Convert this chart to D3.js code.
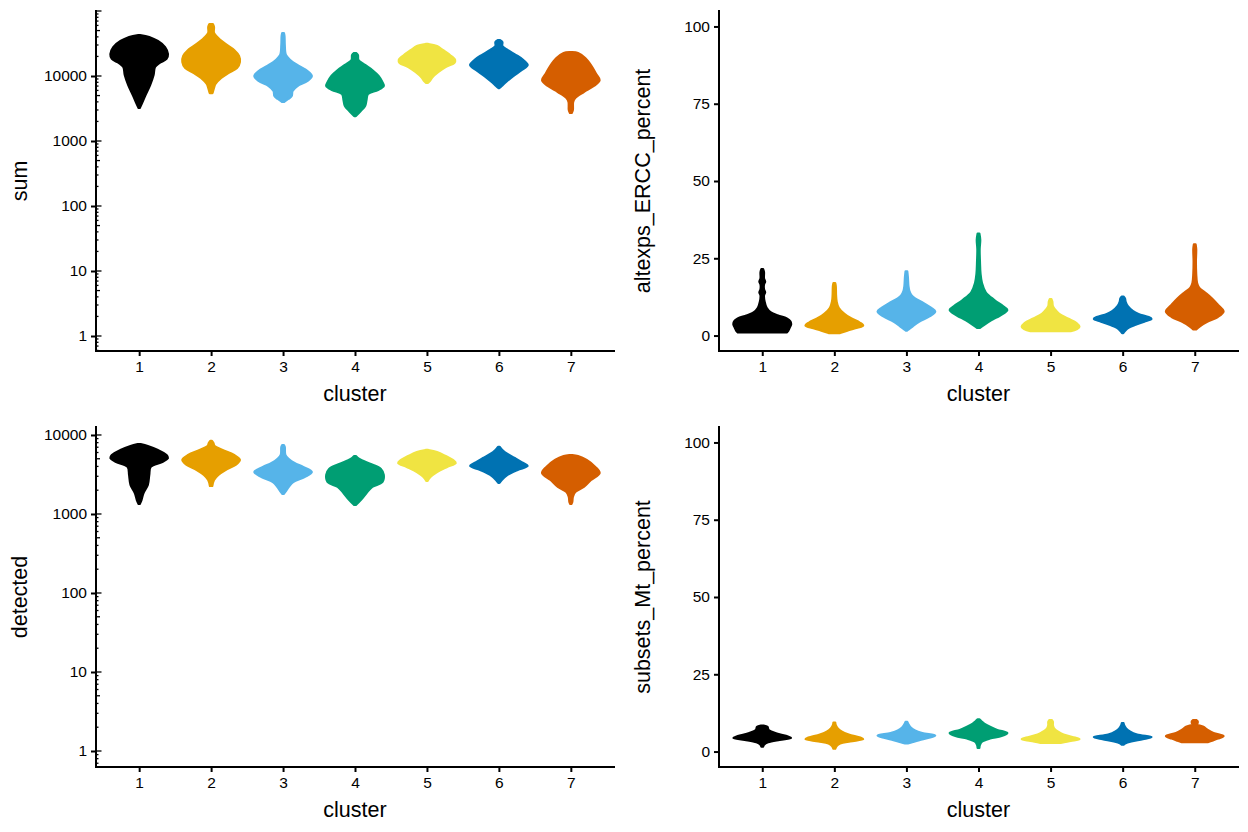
<!DOCTYPE html>
<html><head><meta charset="utf-8">
<script src="https://cdn.jsdelivr.net/npm/d3@7"></script>
<style>
body{margin:0;background:#fff}
svg{display:block}
text{font-family:"Liberation Sans",Arial,Helvetica,sans-serif;fill:#000}
</style>
</head><body>
<svg id="chart" width="1248" height="832"></svg>
<script>
// ---------------- data ----------------
const clusters = ["1","2","3","4","5","6","7"];
const clusterColors = ["#000000","#E69F00","#56B4E9","#009E73","#F0E442","#0072B2","#D55E00"];
const logTickValues = [1,10,100,1000,10000];
const pctTickValues = [0,25,50,75,100];
const xTitle = "cluster";

// violin outlines: [value, relative half-width]
const sumViolins = [
  [[42700,0.03],[39800,0.35],[34500,0.65],[27900,0.9],[21800,1.0],[18300,0.95],[15850,0.7],[13750,0.55],[10370,0.5],[7270,0.38],[5100,0.22],[3840,0.1],[3220,0.02]],
  [[63100,0.06],[56800,0.1],[45900,0.1],[38400,0.25],[31100,0.5],[25100,0.8],[20300,0.97],[16400,1.0],[13300,0.9],[11100,0.6],[9310,0.35],[7530,0.15],[6540,0.1],[5470,0.05]],
  [[45900,0.03],[41200,0.05],[30000,0.06],[21000,0.1],[17600,0.25],[14250,0.55],[11940,0.85],[10000,1.0],[8380,0.85],[7020,0.5],[5880,0.33],[4920,0.3],[4430,0.18],[3980,0.03]],
  [[22600,0.03],[21000,0.1],[17600,0.12],[14760,0.35],[12370,0.6],[10000,0.82],[8090,0.95],[7020,1.0],[6090,0.8],[5290,0.45],[4270,0.4],[3450,0.35],[2900,0.2],[2420,0.03]],
  [[31100,0.05],[28900,0.35],[25100,0.55],[21000,0.8],[17600,0.98],[15850,0.95],[13750,0.65],[11530,0.4],[9660,0.2],[8380,0.1],[7800,0.02]],
  [[35800,0.03],[33400,0.12],[28900,0.12],[25100,0.3],[21000,0.6],[17600,0.85],[14760,1.0],[12370,0.8],[10000,0.5],[8090,0.25],[7020,0.1],[6530,0.02]],
  [[23400,0.05],[22600,0.25],[18900,0.5],[14250,0.72],[10730,0.88],[8670,1.0],[7020,0.8],[5670,0.45],[4590,0.15],[3980,0.08],[3000,0.07],[2700,0.03]]
];
const detectedViolins = [
  [[7690,0.05],[7260,0.3],[6460,0.65],[5580,0.95],[5120,1.0],[4550,0.8],[3940,0.4],[3120,0.35],[2330,0.3],[1845,0.15],[1500,0.08],[1340,0.02]],
  [[8400,0.03],[7920,0.08],[7260,0.12],[6460,0.4],[5580,0.8],[4830,1.0],[4170,0.85],[3610,0.5],[3120,0.25],[2690,0.1],[2260,0.04]],
  [[7470,0.03],[7050,0.06],[5580,0.08],[4970,0.2],[4420,0.4],[3940,0.7],[3400,1.0],[2940,0.75],[2540,0.35],[2200,0.2],[1955,0.1],[1790,0.02]],
  [[5420,0.03],[4970,0.15],[4300,0.55],[3710,0.9],[3120,1.0],[2540,0.95],[2200,0.6],[1845,0.4],[1500,0.2],[1300,0.03]],
  [[6460,0.05],[6090,0.35],[5420,0.65],[4830,0.9],[4420,1.0],[3940,0.7],[3400,0.35],[2940,0.12],[2620,0.02]],
  [[7050,0.03],[6460,0.12],[5750,0.3],[5120,0.55],[4420,0.85],[4050,1.0],[3610,0.65],[3120,0.3],[2690,0.1],[2470,0.02]],
  [[5580,0.05],[5420,0.25],[4830,0.55],[3940,0.85],[3300,1.0],[2690,0.7],[2200,0.45],[1900,0.15],[1640,0.07],[1420,0.05],[1340,0.02]]
];
const erccViolins = [
  [[21.5,0.03],[20.5,0.06],[18.5,0.06],[17.5,0.1],[16.5,0.06],[15,0.06],[14,0.1],[13,0.06],[11,0.08],[9,0.15],[7.5,0.3],[6.5,0.55],[5.5,0.85],[4.5,0.98],[3.5,1.0],[2.5,0.95],[1.5,0.9],[1.0,0.85]],
  [[17,0.03],[16,0.05],[13,0.06],[11,0.08],[9,0.15],[7,0.35],[5.5,0.6],[4.2,0.88],[3.2,1.0],[2.5,0.8],[1.6,0.45],[0.8,0.2]],
  [[20.8,0.03],[19,0.05],[16,0.07],[14.5,0.1],[13,0.18],[12,0.3],[10.5,0.6],[9,0.85],[7.8,1.0],[6.2,0.8],[4.5,0.45],[3,0.22],[2,0.08],[1.6,0.02]],
  [[33,0.03],[31,0.06],[28,0.04],[24,0.05],[20,0.07],[17,0.12],[14,0.25],[11.5,0.55],[9.5,0.85],[8.3,1.0],[6.5,0.75],[5,0.45],[3.5,0.2],[2.5,0.05]],
  [[11.8,0.03],[11,0.06],[9.5,0.08],[8.5,0.15],[7,0.3],[5.5,0.6],[4,0.9],[2.8,1.0],[2.0,0.9],[1.4,0.7]],
  [[12.6,0.03],[12,0.08],[11,0.1],[9.5,0.18],[8,0.35],[7,0.55],[6,0.9],[5.4,1.0],[4.5,0.75],[3.5,0.45],[2.5,0.2],[1.5,0.08],[0.8,0.02]],
  [[29.5,0.03],[28,0.05],[24,0.04],[20,0.05],[17,0.08],[15.5,0.15],[14,0.35],[12,0.6],[10,0.8],[7.8,1.0],[6,0.8],[4.5,0.45],[3,0.18],[2,0.05]]
];
const mtViolins = [
  [[8.4,0.05],[8,0.18],[7,0.22],[6,0.45],[5,0.85],[4.4,1.0],[3.8,0.6],[3,0.2],[2.2,0.06],[1.6,0.03]],
  [[9.4,0.03],[8.5,0.05],[7.5,0.12],[6.5,0.25],[5.5,0.5],[4.5,0.9],[4,1.0],[3.3,0.55],[2.6,0.2],[1.8,0.08],[0.9,0.03]],
  [[9.6,0.03],[8.8,0.07],[7.8,0.15],[6.8,0.3],[6,0.55],[5.2,1.0],[4.4,0.75],[3.7,0.45],[3,0.2],[2.6,0.05]],
  [[10.4,0.03],[9.8,0.1],[9,0.2],[8,0.4],[7,0.65],[6,1.0],[5,0.8],[4.2,0.4],[3.2,0.12],[2.2,0.05],[1.2,0.03]],
  [[10.2,0.04],[9.6,0.08],[8.5,0.08],[7.5,0.12],[6.5,0.25],[5.5,0.45],[4.5,0.85],[4,1.0],[3.4,0.7],[2.8,0.35]],
  [[9.2,0.03],[8.5,0.05],[7.5,0.12],[6.5,0.25],[5.5,0.5],[4.7,1.0],[4,0.7],[3.3,0.3],[2.6,0.08],[2.2,0.03]],
  [[10.2,0.05],[9.8,0.1],[9.2,0.1],[8.8,0.06],[8,0.3],[7,0.45],[6,0.65],[5,1.0],[4.2,0.8],[3.5,0.6],[3,0.45]]
];

// ---------------- layout ----------------
const svg = d3.select("#chart");
const panels = [
  {title:"sum", log:true, domain:[Math.pow(10,-0.2308), 1e5], ticks:logTickValues, violins:sumViolins, x0:96, x1:614, y0:11, y1:351},
  {title:"altexps_ERCC_percent", log:false, domain:[-5,105], ticks:pctTickValues, violins:erccViolins, x0:719, x1:1238, y0:11, y1:351},
  {title:"detected", log:true, domain:[Math.pow(10,-0.2025), Math.pow(10,4.101)], ticks:logTickValues, violins:detectedViolins, x0:96, x1:614, y0:427, y1:767},
  {title:"subsets_Mt_percent", log:false, domain:[-5,105], ticks:pctTickValues, violins:mtViolins, x0:719, x1:1238, y0:427, y1:767}
];

panels.forEach(p => {
  const g = svg.append("g");
  const x = d3.scalePoint().domain(clusters).range([p.x0, p.x1]).padding(0.6);
  const y = (p.log ? d3.scaleLog() : d3.scaleLinear()).domain(p.domain).range([p.y1, p.y0]);
  const half = x.step() * 0.4;

  p.violins.forEach((prof, i) => {
    const cx = x(clusters[i]);
    const area = d3.area()
      .y(d => y(d[0]))
      .x0(d => cx - half * d[1])
      .x1(d => cx + half * d[1])
      .curve(d3.curveCatmullRom.alpha(0.5));
    g.append("path").attr("d", area(prof))
      .attr("fill", clusterColors[i])
      .attr("stroke", clusterColors[i]).attr("stroke-width", 2.2).attr("stroke-linejoin","round");
  });

  if (p.log) {
    const lo = Math.floor(Math.log10(p.domain[0])), hi = Math.ceil(Math.log10(p.domain[1]));
    const lt = [];
    for (let d = lo; d <= hi; d++) for (let k = 1; k <= 9; k++) {
      const v = k * Math.pow(10, d);
      if (v >= p.domain[0] && v <= p.domain[1]) lt.push({v, len: k === 1 ? 5.5 : (k === 5 ? 4 : 2.5)});
    }
    g.selectAll(null).data(lt).enter().append("line")
      .attr("x1", p.x0).attr("x2", d => p.x0 + d.len)
      .attr("y1", d => y(d.v)).attr("y2", d => y(d.v))
      .attr("stroke", "#000").attr("stroke-width", 1.3);
  }

  const yAxis = d3.axisLeft(y).tickValues(p.ticks).tickFormat(d3.format("d")).tickSize(5).tickPadding(4);
  const ya = g.append("g").attr("transform", `translate(${p.x0},0)`).call(yAxis);
  const xAxis = d3.axisBottom(x).tickSize(5).tickPadding(5);
  const xa = g.append("g").attr("transform", `translate(0,${p.y1})`).call(xAxis);
  [ya, xa].forEach(a => {
    a.select(".domain").remove();
    a.selectAll(".tick line").attr("stroke", "#000").attr("stroke-width", 2);
    a.selectAll(".tick text").attr("font-size", 15.5).attr("fill", "#000")
      .attr("font-family", '"Liberation Sans",Arial,sans-serif');
  });
  g.append("path").attr("d", `M${p.x0},${p.y0}V${p.y1}H${p.x1}`)
    .attr("fill", "none").attr("stroke", "#000").attr("stroke-width", 2).attr("stroke-linecap","square");

  g.append("text").attr("x", (p.x0 + p.x1) / 2).attr("y", p.y1 + 50)
    .attr("text-anchor", "middle").attr("font-size", 21.5).text(xTitle);
  g.append("text").attr("transform", `translate(${p.x0 - 69},${(p.y0 + p.y1) / 2}) rotate(-90)`)
    .attr("text-anchor", "middle").attr("font-size", 21.5).text(p.title);
});
</script>
</body></html>
